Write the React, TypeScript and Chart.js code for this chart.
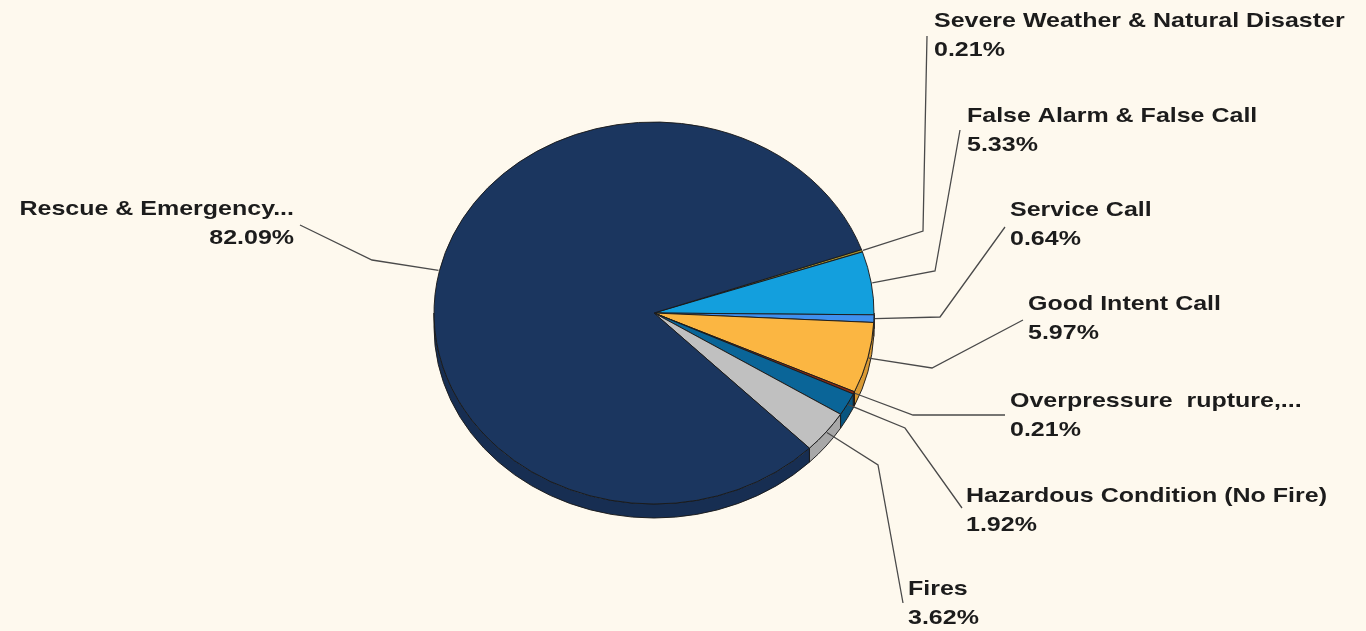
import React, { useEffect, useRef } from 'react';
import { Chart, registerables } from 'chart.js';

Chart.register(...registerables);

// ---- data ----
const CATEGORIES = [
  'Severe Weather & Natural Disaster',
  'False Alarm & False Call',
  'Service Call',
  'Good Intent Call',
  'Overpressure  rupture,...',
  'Hazardous Condition (No Fire)',
  'Fires',
  'Rescue & Emergency...',
];
const SHARES = [0.21, 5.33, 0.64, 5.97, 0.21, 1.92, 3.62, 82.09];
const SHARE_LABELS = ['0.21%', '5.33%', '0.64%', '5.97%', '0.21%', '1.92%', '3.62%', '82.09%'];

// ---- styles ----
const COLORS = ['#9C8A2C', '#139FDD', '#4090EE', '#FBB642', '#8A2A12', '#0A6598', '#C0C0C0', '#1B365F'];
const SIDE_COLORS = ['#7E6F22', '#0F85BA', '#3478CC', '#D99A34', '#70220E', '#08557F', '#A8A8A8', '#172E52'];
const BG = '#FEF9EE';

// ---- layout ----
const W = 1366;
const H = 631;
const RX = 220;
const RY = 191;
const K = RY / RX;
const DEPTH = 14;
const FONT_PX = 21;
const TEXT_SX = 1.19;
const LINE_GAP = 29;

const LABEL_LAYOUT: { x: number; y: number; align: CanvasTextAlign; path: number[][] }[] = [
  { x: 934, y: 27, align: 'left', path: [[923, 231], [927, 36]] },
  { x: 967, y: 122, align: 'left', path: [[935, 271], [960, 130]] },
  { x: 1010, y: 216, align: 'left', path: [[940, 317], [1005, 227]] },
  { x: 1028, y: 310, align: 'left', path: [[932, 368], [1023, 320]] },
  { x: 1010, y: 407, align: 'left', path: [[913, 415], [1005, 415]] },
  { x: 966, y: 502, align: 'left', path: [[905, 428], [962, 508]] },
  { x: 908, y: 595, align: 'left', path: [[878, 465], [903, 603]] },
  { x: 294, y: 215, align: 'right', path: [[372, 260], [300, 225]] },
];

const pie3d = {
  id: 'pie3d',
  beforeDatasetsDraw(chart: any) {
    const ctx: CanvasRenderingContext2D = chart.ctx;
    const meta = chart.getDatasetMeta(0);
    const first = meta.data[0];
    const cx = first.x;
    const cy = first.y;
    ctx.save();
    ctx.translate(cx, cy);
    ctx.scale(1, K);
    ctx.translate(-cx, -cy);
    const d = DEPTH / K;
    meta.data.forEach((arc: any, i: number) => {
      const p = arc.getProps(['startAngle', 'endAngle', 'outerRadius'], true);
      const r = p.outerRadius;
      for (const off of [-2 * Math.PI, 0, 2 * Math.PI]) {
        const s = Math.max(p.startAngle + off, 0);
        const e = Math.min(p.endAngle + off, Math.PI);
        if (e <= s) continue;
        ctx.beginPath();
        ctx.moveTo(cx + r * Math.cos(s), cy + r * Math.sin(s));
        ctx.arc(cx, cy, r, s, e);
        ctx.lineTo(cx + r * Math.cos(e), cy + d + r * Math.sin(e));
        ctx.arc(cx, cy + d, r, e, s, true);
        ctx.closePath();
        ctx.fillStyle = SIDE_COLORS[i];
        ctx.fill();
        ctx.lineWidth = 1;
        ctx.strokeStyle = '#1a1a1a';
        ctx.stroke();
      }
    });
  },
  afterDatasetsDraw(chart: any) {
    chart.ctx.restore();
  },
  afterDraw(chart: any) {
    const ctx: CanvasRenderingContext2D = chart.ctx;
    const meta = chart.getDatasetMeta(0);
    ctx.save();
    // leader lines
    ctx.strokeStyle = '#4a4a4a';
    ctx.lineWidth = 1.3;
    meta.data.forEach((arc: any, i: number) => {
      const p = arc.getProps(['startAngle', 'endAngle', 'outerRadius', 'x', 'y'], true);
      const m = (p.startAngle + p.endAngle) / 2;
      const sx = p.x + (p.outerRadius + 1) * Math.cos(m);
      const sy = p.y + K * (p.outerRadius + 1) * Math.sin(m);
      const lay = LABEL_LAYOUT[i];
      ctx.beginPath();
      ctx.moveTo(sx, sy);
      lay.path.forEach(([x, y]) => ctx.lineTo(x, y));
      ctx.stroke();
    });
    // labels
    ctx.fillStyle = '#1c1c1c';
    ctx.font = `bold ${FONT_PX}px "Liberation Sans", Arial, sans-serif`;
    ctx.textBaseline = 'alphabetic';
    CATEGORIES.forEach((cat, i) => {
      const lay = LABEL_LAYOUT[i];
      [cat, SHARE_LABELS[i]].forEach((line, j) => {
        ctx.save();
        ctx.translate(lay.x, lay.y + j * LINE_GAP);
        ctx.scale(TEXT_SX, 1);
        ctx.textAlign = lay.align;
        ctx.fillText(line, 0, 0);
        ctx.restore();
      });
    });
    ctx.restore();
  },
};

export default function App() {
  const ref = useRef<HTMLCanvasElement>(null);
  useEffect(() => {
    const prev = document.body.style.margin;
    document.body.style.margin = '0';
    const canvas = ref.current;
    if (!canvas) return;
    const chart = new Chart(canvas, {
      type: 'pie',
      data: {
        labels: CATEGORIES,
        datasets: [
          {
            data: SHARES,
            backgroundColor: COLORS,
            borderColor: '#1a1a1a',
            borderWidth: 1,
            clip: false as any,
          } as any,
        ],
      },
      options: {
        responsive: false,
        animation: false,
        events: [],
        rotation: 70.6,
        radius: RX,
        layout: { padding: { left: 434, right: 492, top: 93, bottom: 98 } },
        plugins: {
          legend: { display: false },
          tooltip: { enabled: false },
        },
      } as any,
      plugins: [pie3d],
    });
    return () => {
      chart.destroy();
      document.body.style.margin = prev;
    };
  }, []);
  return (
    <div style={{ position: 'fixed', left: 0, top: 0, width: W, height: H, background: BG }}>
      <canvas ref={ref} width={W} height={H} style={{ display: 'block' }} />
    </div>
  );
}
